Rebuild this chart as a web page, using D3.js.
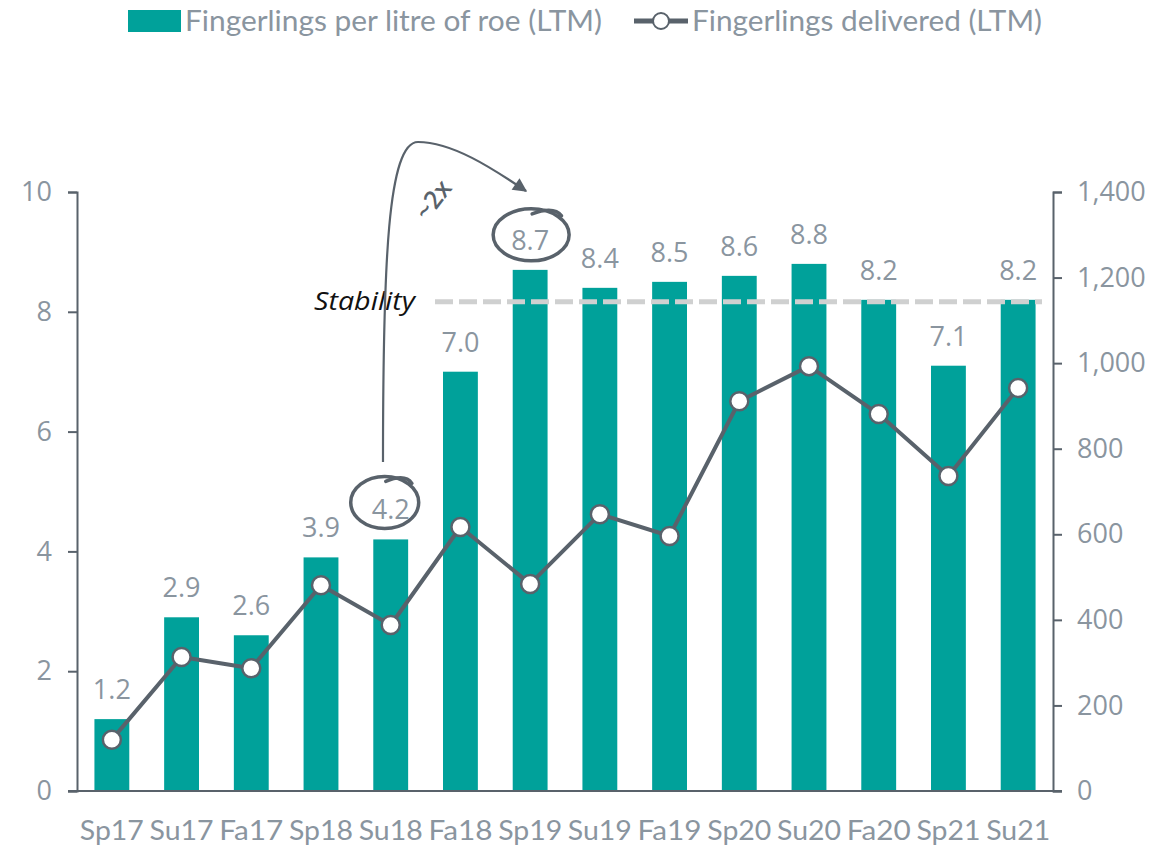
<!DOCTYPE html>
<html><head><meta charset="utf-8">
<script src="https://cdn.jsdelivr.net/npm/d3@7"></script>
<style>body{margin:0;background:#fff}svg{display:block}</style>
</head><body><svg id="c" width="1156" height="848"></svg>
<script>
const categories = ["Sp17","Su17","Fa17","Sp18","Su18","Fa18","Sp19","Su19","Fa19","Sp20","Su20","Fa20","Sp21","Su21"];
const perLitre = [1.2,2.9,2.6,3.9,4.2,7.0,8.7,8.4,8.5,8.6,8.8,8.2,7.1,8.2];
const delivered = [120,313,287,481,388,617,484,647,596,911,993,881,736,942];
const leftTicks = [0,2,4,6,8,10];
const rightTicks = [0,200,400,600,800,1000,1200,1400];
const stabilityValue = 8.2;

const teal = "#00a19a", dark = "#59626b", grey = "#8a959f";
const svg = d3.select("#c");
const L = 77, R = 1053, T = 192, B = 791;
const x = d3.scaleBand().domain(categories).range([L, R]).paddingInner(0.5).paddingOuter(0.25);
const yL = d3.scaleLinear().domain([0,10]).range([B,T]);
const yR = d3.scaleLinear().domain([0,1400]).range([B,T]);
const numFont = "'Open Sans', 'Noto Sans', sans-serif";
const catFont = "Lato, 'Noto Sans', sans-serif";

// bars
svg.append("g").selectAll("rect").data(perLitre).join("rect")
  .attr("x",(d,i)=>x(categories[i])).attr("width",x.bandwidth())
  .attr("y",d=>yL(d)).attr("height",d=>B-yL(d)).attr("fill",teal);

// stability line
svg.append("line").attr("x1",435).attr("x2",1042).attr("y1",yL(stabilityValue)+2).attr("y2",yL(stabilityValue)+2)
  .attr("stroke","#cfd0d0").attr("stroke-width",5).attr("stroke-dasharray","18,6");
svg.append("text").attr("x",415).attr("y",yL(stabilityValue)+10).attr("text-anchor","end")
  .attr("font-family","'Open Sans', sans-serif").attr("font-style","italic").attr("font-size",25).attr("fill","#111")
  .attr("textLength",101).attr("lengthAdjust","spacingAndGlyphs").text("Stability");

// axes
const axL = svg.append("g").attr("transform",`translate(${L},0)`)
  .call(d3.axisLeft(yL).tickValues(leftTicks).tickSize(9).tickPadding(16));
const axR = svg.append("g").attr("transform",`translate(${R},0)`)
  .call(d3.axisRight(yR).tickValues(rightTicks).tickSize(9).tickPadding(15).tickFormat(d3.format(",")));
[axL,axR].forEach(a=>{
  a.select(".domain").attr("stroke",dark).attr("stroke-width",2);
  a.selectAll(".tick line").attr("stroke",dark).attr("stroke-width",2);
  a.selectAll(".tick text").attr("fill",grey).attr("font-family",numFont).attr("font-size",27);
});
svg.append("line").attr("x1",L-9).attr("x2",R+9).attr("y1",B).attr("y2",B).attr("stroke",dark).attr("stroke-width",2);

// category labels
svg.append("g").selectAll("text").data(categories).join("text")
  .attr("x",d=>x(d)+x.bandwidth()/2).attr("y",840).attr("text-anchor","middle")
  .attr("font-family",catFont).attr("font-size",27).attr("fill",grey)
  .attr("textLength",64).attr("lengthAdjust","spacingAndGlyphs").text(d=>d);

// data labels
svg.append("g").selectAll("text").data(perLitre).join("text")
  .attr("x",(d,i)=>x(categories[i])+x.bandwidth()/2).attr("y",d=>yL(d)-20).attr("text-anchor","middle")
  .attr("font-family",numFont).attr("font-size",27).attr("fill",grey).text(d=>d.toFixed(1));

// line
const cx = (d,i)=>x(categories[i])+x.bandwidth()/2;
svg.append("path").datum(delivered)
  .attr("d",d3.line().x(cx).y(d=>yR(d)))
  .attr("fill","none").attr("stroke",dark).attr("stroke-width",4).attr("stroke-linejoin","round");
svg.append("g").selectAll("circle").data(delivered).join("circle")
  .attr("cx",cx).attr("cy",d=>yR(d)).attr("r",9).attr("fill","#fff").attr("stroke",dark).attr("stroke-width",2.5);

// annotations
const defs = svg.append("defs");
defs.append("marker").attr("id","ah").attr("viewBox","0 0 10 10").attr("refX",9).attr("refY",5)
  .attr("markerWidth",16).attr("markerHeight",14).attr("markerUnits","userSpaceOnUse").attr("orient","auto")
  .append("path").attr("d","M0,0 L10,5 L0,10 z").attr("fill",dark);
svg.append("path").attr("d","M383,462 C383,260 388,142 418,142 C452,142 492,168 526,191")
  .attr("fill","none").attr("stroke",dark).attr("stroke-width",2.2).attr("marker-end","url(#ah)");
svg.append("text").attr("transform","translate(440,205) rotate(-52)").attr("text-anchor","middle")
  .attr("font-family",numFont).attr("font-size",25).attr("font-weight",600).attr("fill",dark).text("~2x");

function handCircle(cxp, cyp, rx, ry){
  svg.append("ellipse").attr("cx",cxp).attr("cy",cyp).attr("rx",rx).attr("ry",ry)
    .attr("fill","none").attr("stroke",dark).attr("stroke-width",3.5);
  svg.append("path").attr("d",`M${cxp+1},${cyp-ry+5} Q${cxp+rx*0.6},${cyp-ry-3} ${cxp+rx*0.8},${cyp-ry+7}`)
    .attr("fill","none").attr("stroke",dark).attr("stroke-width",3.5).attr("stroke-linecap","round");
}
handCircle(x("Su18")+x.bandwidth()/2-6, yL(4.2)-37, 34, 26);
handCircle(x("Sp19")+x.bandwidth()/2+1, yL(8.7)-35, 38, 26);

// legend
const lg = svg.append("g");
lg.append("rect").attr("x",128).attr("y",10).attr("width",53).attr("height",22).attr("fill",teal);
lg.append("text").attr("x",185).attr("y",31).attr("font-family",catFont).attr("font-size",28).attr("fill",grey)
  .attr("textLength",417).attr("lengthAdjust","spacingAndGlyphs").text("Fingerlings per litre of roe (LTM)");
lg.append("line").attr("x1",634).attr("x2",688).attr("y1",21).attr("y2",21).attr("stroke",dark).attr("stroke-width",5);
lg.append("circle").attr("cx",661).attr("cy",21).attr("r",8).attr("fill","#fff").attr("stroke",dark).attr("stroke-width",2);
lg.append("text").attr("x",692).attr("y",31).attr("font-family",catFont).attr("font-size",28).attr("fill",grey)
  .attr("textLength",350).attr("lengthAdjust","spacingAndGlyphs").text("Fingerlings delivered (LTM)");
</script></body></html>
